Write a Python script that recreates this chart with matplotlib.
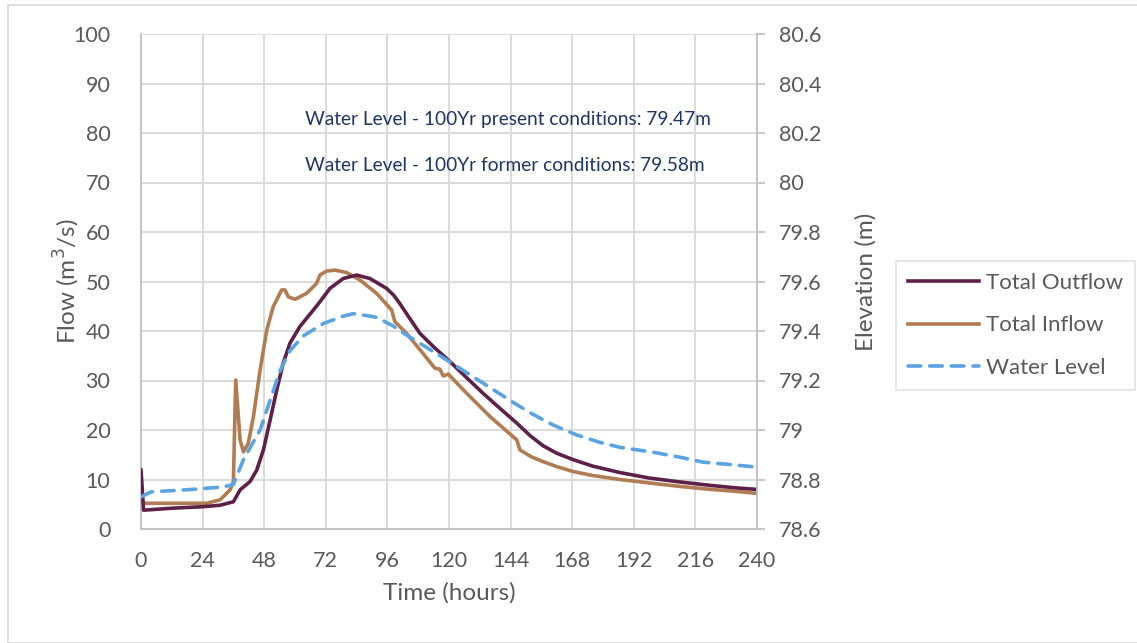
import numpy as np
import matplotlib.pyplot as plt
from matplotlib.lines import Line2D

plt.rcParams['font.family'] = ['Lato', 'DejaVu Sans']

# hours / flows (m3/s)
out_t = [0, 1, 12, 24, 30.8, 36, 38.6, 42.5, 45.1, 47.7, 50.3, 52.9, 55.4, 58, 61.9,
         67.1, 69.7, 73.6, 78.8, 84, 89.2, 95.7, 98.5, 100.9, 104.5, 108.7, 114, 120.4,
         127, 133.3, 140, 146.4, 151.5, 156.7, 162, 168.4, 176, 186.6, 198, 210, 222,
         232, 240]
out_q = [12, 3.8, 4.2, 4.5, 4.8, 5.5, 7.9, 9.6, 11.9, 16, 22, 28.1, 33.5, 37.5, 40.9,
         44.2, 45.9, 48.6, 50.6, 51.3, 50.6, 48.6, 47.2, 45.5, 42.7, 39.5, 36.8, 33.8,
         30.5, 27.4, 24.3, 21.4, 18.9, 16.8, 15.3, 14.0, 12.7, 11.4, 10.3, 9.5, 8.8,
         8.3, 8.0]

in_t = [0, 12, 25.6, 30.8, 34.7, 36, 36.9, 38.6, 39.9, 41.8, 43.8, 46.4, 49, 51.5, 54.8,
        56.1, 57.4, 60, 64.5, 68.4, 69.7, 72.3, 75.6, 80.1, 85.3, 91.8, 97.7, 98.9,
        103.5, 108.7, 114.5, 116.4, 117.8, 119.7, 126.9, 136, 146.4, 147.6, 152, 156.7,
        162, 168.4, 176, 186.6, 198, 210, 222, 232, 240]
in_q = [5.2, 5.2, 5.2, 5.9, 7.9, 9.6, 30.1, 18, 15.6, 17.3, 22.7, 32.1, 40.2, 44.9, 48.3,
        48.3, 46.9, 46.4, 47.6, 49.6, 51.3, 52.1, 52.3, 51.8, 50.3, 47.6, 44.2, 41.9,
        39.5, 36.2, 32.5, 32.3, 30.9, 31.3, 27.4, 22.7, 18, 16, 14.6, 13.6,
        12.6, 11.6, 10.8, 10, 9.3, 8.6, 8.0, 7.6, 7.2]

# elevation (m)
wl_t = [0, 4, 20, 32, 36, 39.9, 46.4, 50.3, 54.2, 58, 63.2, 71, 78.8, 82.7, 89.2, 91.8,
        98.3, 100.9, 108.7, 116.5, 125.6, 134.7, 143.7, 151.5, 160.6, 169.7, 178.8,
        186.6, 199.6, 210, 219.1, 230, 240]
wl_e = [78.73, 78.75, 78.76, 78.77, 78.78, 78.88, 79.00, 79.12, 79.24, 79.32, 79.38,
        79.43, 79.46, 79.47, 79.46, 79.455, 79.42, 79.40, 79.35, 79.30, 79.24, 79.18,
        79.12, 79.07, 79.02, 78.98, 78.95, 78.93, 78.91, 78.89, 78.87, 78.86, 78.85]

notes = ['Water Level - 100Yr present conditions: 79.47m',
         'Water Level - 100Yr former conditions: 79.58m']

c_out = '#5e2049'
c_in = '#b17c52'
c_wl = '#5ba4e3'
grid_c = '#d9d9d9'
txt_c = '#595959'
dash = (0, (3.5, 2.5))

fig = plt.figure(figsize=(11.37, 6.43), dpi=100)
ax = fig.add_axes([141/1137, 1 - 529/643, (757-141)/1137, (529-34)/643])
ax2 = ax.twinx()

ax.plot(out_t, out_q, color=c_out, lw=2.6, solid_capstyle='round',
        solid_joinstyle='round', zorder=3)
ax.plot(in_t, in_q, color=c_in, lw=2.6, solid_capstyle='round',
        solid_joinstyle='round', zorder=2)
ax2.plot(wl_t, wl_e, color=c_wl, lw=2.6, ls=dash, dash_capstyle='round')

ax.set_xlim(0, 240)
ax.set_ylim(0, 100)
ax2.set_ylim(78.6, 80.6)
ax.set_xticks(np.arange(0, 241, 24))
ax.set_yticks(np.arange(0, 101, 10))
ax2.set_yticks(np.arange(78.6, 80.61, 0.2))
ax2.set_yticklabels(['78.6', '78.8', '79', '79.2', '79.4', '79.6', '79.8', '80',
                     '80.2', '80.4', '80.6'])

ax.grid(True, color=grid_c, lw=1.3)
ax.set_axisbelow(True)
for a in (ax, ax2):
    for s in a.spines.values():
        s.set_visible(False)
ax.spines['left'].set_visible(True)
ax.spines['bottom'].set_visible(True)
ax2.spines['right'].set_visible(True)
for s in (ax.spines['left'], ax.spines['bottom'], ax2.spines['right']):
    s.set_color('#bfbfbf')
    s.set_linewidth(1.3)

ax.tick_params(axis='y', length=0, labelsize=15.5, labelcolor=txt_c, pad=22)
ax.tick_params(axis='x', length=0, labelsize=15.5, labelcolor=txt_c, pad=16)
ax2.tick_params(axis='y', length=6, color='#bfbfbf', width=1.2, labelsize=15.5,
                labelcolor=txt_c, pad=10)

ax.set_xlabel('Time (hours)', fontsize=17.5, color=txt_c, labelpad=8)
ax.set_ylabel('Flow (m$^3$/s)', fontsize=17.5, color=txt_c, labelpad=-6)
ax2.set_ylabel('Elevation (m)', fontsize=17.5, color=txt_c, labelpad=24)

for i, s in enumerate(notes):
    fig.text(305/1137, 1 - (120 + 45*i)/643, s, fontsize=13.8, color='#1f3468',
             va='center', ha='left')

handles = [Line2D([], [], color=c_out, lw=2.6),
           Line2D([], [], color=c_in, lw=2.6),
           Line2D([], [], color=c_wl, lw=2.6, ls=dash, dash_capstyle='round')]
leg = fig.legend(handles, ['Total Outflow', 'Total Inflow', 'Water Level'],
                 loc='upper left', bbox_to_anchor=(896/1137, 1 - 261/643),
                 fontsize=16, frameon=True, fancybox=False, edgecolor='#d9d9d9',
                 handlelength=3.2, handletextpad=0.3, labelspacing=1.0,
                 borderpad=0.55, borderaxespad=0, labelcolor=txt_c)
leg.get_frame().set_linewidth(1.2)

fig.add_artist(plt.Rectangle((8/1137, 0.0), 1.2, 1 - 5/643,
                             transform=fig.transFigure, fill=False,
                             edgecolor='#d9d9d9', lw=1.2))

fig.savefig('out.png', dpi=100)
